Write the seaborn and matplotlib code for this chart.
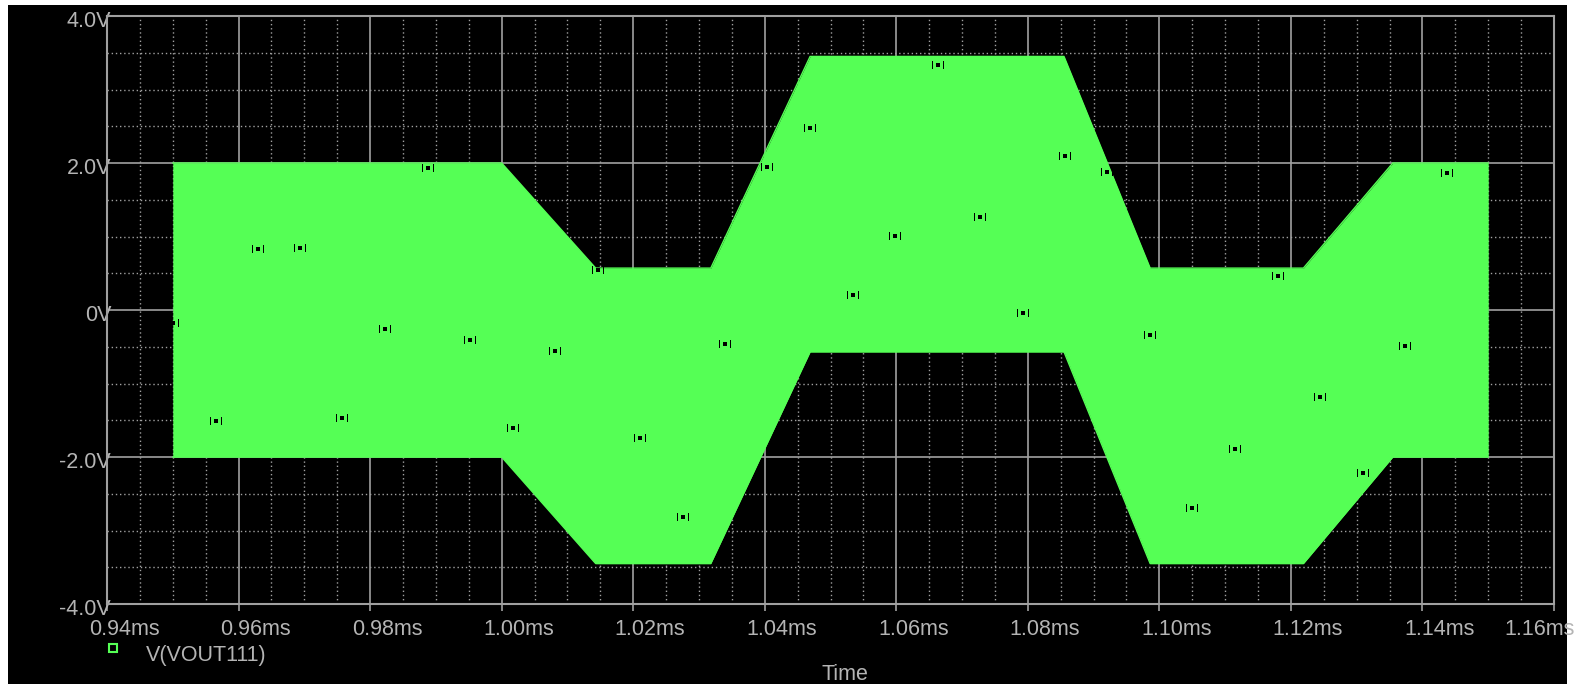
import matplotlib
matplotlib.use("Agg")
import matplotlib.pyplot as plt
from matplotlib.patches import Rectangle
from matplotlib.path import Path
from matplotlib.lines import Line2D
from matplotlib.ticker import MultipleLocator
from matplotlib.transforms import ScaledTranslation
import seaborn as sns
import pandas as pd

# Envelope of the V(VOUT111) trace (time in ms, volts)
env_time = [0.950, 1.000, 1.0143, 1.0318, 1.0469, 1.0855, 1.0986, 1.1219, 1.1355, 1.150]
env_upper = [2.00, 2.00, 0.57, 0.57, 3.45, 3.45, 0.57, 0.57, 2.00, 2.00]
env_lower = [-2.00, -2.00, -3.45, -3.45, -0.57, -0.57, -3.45, -3.45, -2.00, -2.00]

# Sample markers drawn along the trace
mark_time = [0.9500, 0.9565, 0.9629, 0.9694, 0.9758, 0.9823, 0.9888, 0.9952,
             1.0017, 1.0081, 1.0146, 1.0211, 1.0275, 1.0340, 1.0404, 1.0469,
             1.0534, 1.0598, 1.0663, 1.0727, 1.0792, 1.0857, 1.0921, 1.0986,
             1.1050, 1.1115, 1.1180, 1.1244, 1.1309, 1.1373, 1.1438]
mark_volt = [-0.18, -1.51, 0.83, 0.85, -1.47, -0.26, 1.93, -0.41,
             -1.60, -0.56, 0.54, -1.74, -2.82, -0.46, 1.95, 2.47,
             0.20, 1.01, 3.33, 1.27, -0.04, 2.09, 1.88, -0.34,
             -2.69, -1.89, 0.46, -1.19, -2.22, -0.49, 1.86]

x_ticks = [0.94, 0.96, 0.98, 1.00, 1.02, 1.04, 1.06, 1.08, 1.10, 1.12, 1.14, 1.16]
y_ticks = [-4.0, -2.0, 0.0, 2.0, 4.0]
y_tick_labels = ["-4.0V", "-2.0V", "0V", "2.0V", "4.0V"]

trace_name = "V(VOUT111)"
x_title = "Time"

GREEN = "#55ff55"
GRID = "#a0a0a0"
TEXT = "#b4b4b4"
FS = 15.5

sns.set_theme(style="dark")
plt.rcParams["font.family"] = ["Liberation Sans", "DejaVu Sans"]

fig = plt.figure(figsize=(15.82, 6.84), dpi=100, facecolor="white")
# black panel behind the plot
fig.patches.append(Rectangle((8 / 1582, 0), (1567 - 8) / 1582, 1 - 5 / 684,
                             transform=fig.transFigure, facecolor="black",
                             edgecolor="none", zorder=-10))

ax = fig.add_axes([107 / 1582, 1 - 604 / 684, (1554 - 107) / 1582, (604 - 16) / 684])
ax.set_facecolor("black")

ax.set_xlim(0.94, 1.16)
ax.set_ylim(-4.0, 4.0)

# filled trace envelope
ax.fill_between(env_time, env_lower, env_upper, color=GREEN, linewidth=0, zorder=2)
env_df = pd.DataFrame({"t": env_time, "hi": env_upper, "lo": env_lower})
sns.lineplot(data=env_df, x="t", y="hi", color=GREEN, lw=1, ax=ax, zorder=2)
sns.lineplot(data=env_df, x="t", y="lo", color=GREEN, lw=1, ax=ax, zorder=2)

# sample marker glyph: small square flanked by two bars
def rect(x0, y0, x1, y1):
    return Path([(x0, y0), (x1, y0), (x1, y1), (x0, y1), (x0, y0)],
                [Path.MOVETO, Path.LINETO, Path.LINETO, Path.LINETO, Path.CLOSEPOLY])

glyph = Path.make_compound_path(rect(-1.0, -0.6, -0.78, 0.6),
                                rect(-0.4, -0.38, 0.4, 0.38),
                                rect(0.78, -0.6, 1.0, 0.6))
mark_df = pd.DataFrame({"t": mark_time, "v": mark_volt})
sns.scatterplot(data=mark_df, x="t", y="v", marker=glyph, s=75, color="black",
                linewidth=0, ax=ax, zorder=3)

# grid: solid major, dotted minor
ax.set_axisbelow(True)
ax.xaxis.set_minor_locator(MultipleLocator(0.005))
ax.yaxis.set_minor_locator(MultipleLocator(0.5))
ax.set_xticks(x_ticks)
ax.set_xticklabels([f"{v:.2f}ms" for v in x_ticks])
ax.set_yticks(y_ticks)
ax.set_yticklabels(y_tick_labels)
ax.grid(which="major", color=GRID, linewidth=1.2, linestyle="-")
ax.grid(which="minor", color=GRID, linewidth=1.0, linestyle=(0, (1.0, 2.0)))

for s in ax.spines.values():
    s.set_color(GRID)
    s.set_linewidth(1.5)
    s.set_visible(True)

ax.tick_params(axis="x", which="major", length=5, width=1.2, color=GRID,
               direction="out", labelsize=FS, labelcolor=TEXT, pad=6, bottom=True)
ax.tick_params(axis="y", which="major", length=0, labelsize=FS,
               labelcolor=TEXT, pad=-3, left=True)
ax.tick_params(which="minor", length=0)
ax.set_xlabel("")
ax.set_ylabel("")

# y labels sit slightly below their gridlines
shift_y = ScaledTranslation(0, -3 / 100, fig.dpi_scale_trans)
for lbl in ax.get_yticklabels():
    lbl.set_transform(lbl.get_transform() + shift_y)

# x labels sit right of their ticks; the last one is pulled inside the panel
xlabels = ax.get_xticklabels()
for i, lbl in enumerate(xlabels):
    dx = 17 if i < len(xlabels) - 1 else -14
    lbl.set_transform(lbl.get_transform() + ScaledTranslation(dx / 100, 0, fig.dpi_scale_trans))

# legend entry below the axis
fig.add_artist(Line2D([113 / 1582], [1 - 648 / 684], transform=fig.transFigure,
                      marker="s", markersize=5.5, markerfacecolor="none",
                      markeredgecolor=GREEN, markeredgewidth=1.5, linestyle="none"))
fig.text(146 / 1582, 1 - 655 / 684, trace_name, color=TEXT, fontsize=15.5,
         ha="left", va="center")
fig.text(845 / 1582, 1 - 675 / 684, x_title, color=TEXT, fontsize=15.5,
         ha="center", va="center")

fig.savefig("out.png", dpi=100, facecolor="white")
